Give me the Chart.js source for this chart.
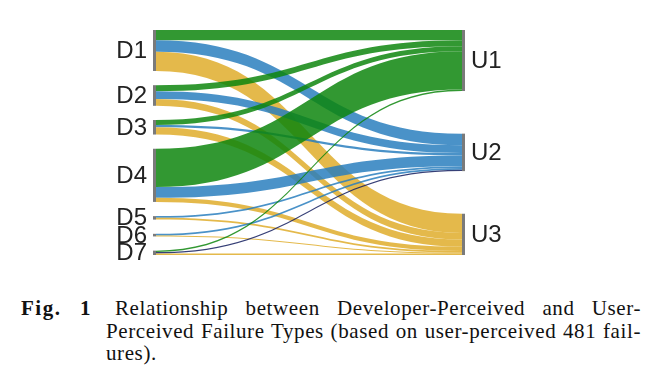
<!DOCTYPE html>
<html lang="en">
<head>
  <meta charset="UTF-8" />
  <title>Developer vs User Perceived Failures</title>
  <script src="https://cdn.jsdelivr.net/npm/chart.js"></script>
  <style>
    body { margin: 0; background: #fff; width: 661px; height: 380px; overflow: hidden; position: relative; }
    #wrap { position: absolute; left: 0; top: 0; width: 661px; height: 280px; }
    .cap { position: absolute; font-family: "Liberation Serif", "DejaVu Serif", serif; font-size: 21px; letter-spacing: 0.6px; line-height: 23px; color: #111; white-space: nowrap; }
    .just { text-align: justify; text-align-last: justify; white-space: normal; }
    .b { font-weight: bold; letter-spacing: 1.5px; }
  </style>
</head>
<body>
  <div id="wrap"><canvas id="sankey" width="661" height="280"></canvas></div>

  <div class="cap b" style="left:21px; top:297px;">Fig.</div>
  <div class="cap b" style="left:80px; top:297px;">1</div>
  <div class="cap just" style="left:115px; top:297px; width:526px;">Relationship between Developer-Perceived and User-</div>
  <div class="cap just" style="left:106px; top:320px; width:535px;">Perceived Failure Types (based on user-perceived 481 fail-</div>
  <div class="cap" style="left:106px; top:342px;">ures).</div>

  <script>
    // developer-perceived (left) and user-perceived (right) failure types
    const sources = ['D1', 'D2', 'D3', 'D4', 'D5', 'D6', 'D7'];
    const targets = ['U1', 'U2', 'U3'];

    // number of failures from each D type into each U type (index = D1..D7)
    const toU1 = [35, 21, 17, 132, 0, 0, 5];
    const toU2 = [40, 27, 8, 37, 6, 6, 5];
    const toU3 = [66, 23, 25, 14, 6, 3, 5];

    const flows = [toU1, toU2, toU3];
    const colors = ['rgba(14,134,14,0.85)', 'rgba(42,127,190,0.85)', 'rgba(223,173,43,0.85)'];
    const navy = 'rgba(20,30,95,0.85)';

    const total = flows.flat().reduce((a, b) => a + b, 0);
    const span = total * 1.61; // column height in failure units, gaps included

    function linkColor(s, t) {
      if (sources[s] === 'D7' && targets[t] === 'U2') return navy;
      return colors[t];
    }

    // stack nodes down a column, spreading the leftover space as equal gaps
    function layoutColumn(sizes) {
      const sum = sizes.reduce((a, b) => a + b, 0);
      const gap = (span - sum) / (sizes.length - 1);
      let y = 0;
      return sizes.map(v => {
        const node = { y0: y, y1: y + v };
        y += v + gap;
        return node;
      });
    }

    const sankeyPlugin = {
      id: 'sankey',
      beforeDatasetsDraw(chart) {
        const ctx = chart.ctx;
        const xs = chart.scales.x, ys = chart.scales.y;

        const srcSize = sources.map((_, s) => flows.reduce((a, f) => a + f[s], 0));
        const tgtSize = flows.map(f => f.reduce((a, b) => a + b, 0));
        const left = layoutColumn(srcSize);
        const right = layoutColumn(tgtSize);

        const srcOff = left.map(n => n.y0);
        const tgtOff = right.map(n => n.y0);

        const x0 = xs.getPixelForValue(0), x1 = xs.getPixelForValue(1);
        const xm = (x0 + x1) / 2;

        // sources stacked by target order, targets stacked by source order
        const links = [];
        sources.forEach((_, s) => {
          targets.forEach((_, t) => {
            const v = flows[t][s];
            if (!v) return;
            links.push({ s, t, v, a: srcOff[s] });
            srcOff[s] += v;
          });
        });
        sources.forEach((_, s) => {
          links.filter(l => l.s === s).forEach(l => {
            l.b = tgtOff[l.t];
            tgtOff[l.t] += l.v;
          });
        });

        ctx.save();
        links.forEach(l => {
          const a0 = ys.getPixelForValue(l.a), a1 = ys.getPixelForValue(l.a + l.v);
          const b0 = ys.getPixelForValue(l.b), b1 = ys.getPixelForValue(l.b + l.v);
          ctx.fillStyle = linkColor(l.s, l.t);
          ctx.beginPath();
          ctx.moveTo(x0, a0);
          ctx.bezierCurveTo(xm, a0, xm, b0, x1, b0);
          ctx.lineTo(x1, b1);
          ctx.bezierCurveTo(xm, b1, xm, a1, x0, a1);
          ctx.closePath();
          ctx.fill();
        });

        // node bars and labels
        ctx.fillStyle = '#7a7a7a';
        left.forEach(n => {
          const p0 = ys.getPixelForValue(n.y0), p1 = ys.getPixelForValue(n.y1);
          ctx.fillRect(x0 - 3, p0, 3, Math.max(p1 - p0, 1));
        });
        right.forEach(n => {
          const p0 = ys.getPixelForValue(n.y0), p1 = ys.getPixelForValue(n.y1);
          ctx.fillRect(x1, p0, 3, Math.max(p1 - p0, 1));
        });

        ctx.fillStyle = '#222';
        ctx.font = '24px "Liberation Sans", Arial, sans-serif';
        ctx.textBaseline = 'middle';
        ctx.textAlign = 'right';
        left.forEach((n, i) => {
          ctx.fillText(sources[i], x0 - 9, ys.getPixelForValue((n.y0 + n.y1) / 2) + 1);
        });
        ctx.textAlign = 'left';
        right.forEach((n, i) => {
          ctx.fillText(targets[i], x1 + 9, ys.getPixelForValue((n.y0 + n.y1) / 2) + 1);
        });
        ctx.restore();
      }
    };

    new Chart(document.getElementById('sankey'), {
      type: 'scatter',
      data: { datasets: [{ data: [] }] },
      options: {
        responsive: false,
        animation: false,
        layout: { padding: { left: 156, right: 199, top: 30, bottom: 25 } },
        scales: {
          x: { type: 'linear', min: 0, max: 1, display: false },
          y: { type: 'linear', min: 0, max: span, reverse: true, display: false }
        },
        plugins: { legend: { display: false }, tooltip: { enabled: false } }
      },
      plugins: [sankeyPlugin]
    });
  </script>
</body>
</html>
